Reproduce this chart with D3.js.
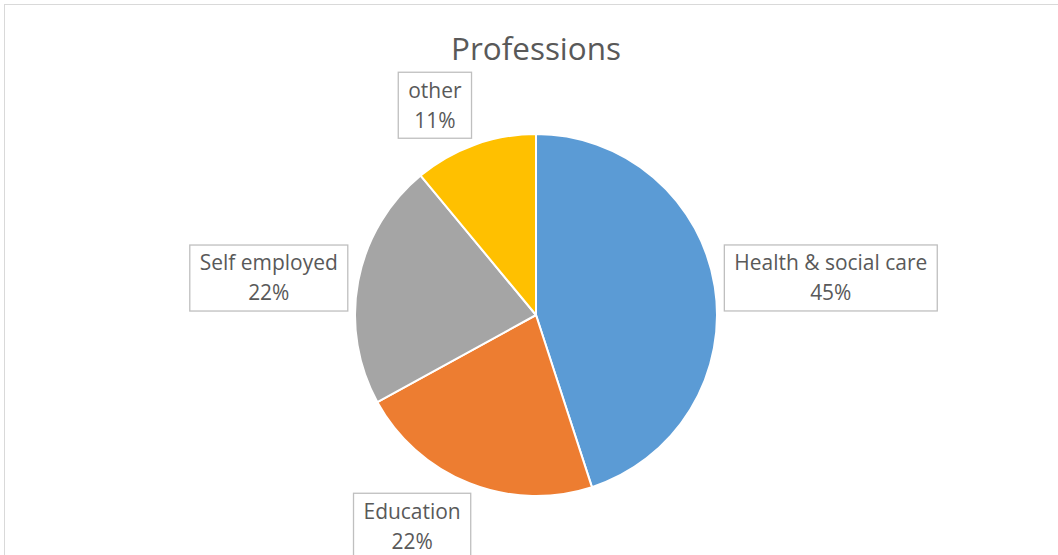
<!DOCTYPE html>
<html>
<head>
<meta charset="utf-8">
<script src="https://cdn.jsdelivr.net/npm/d3@7"></script>
<style>
  html, body { margin: 0; padding: 0; background: #fff; }
  svg { display: block; }
</style>
</head>
<body>
<svg id="chart" width="1058" height="555"></svg>
<script>
// Share of respondents by profession
const categories = ["Health & social care", "Education", "Self employed", "other"];
const shares = [45, 22, 22, 11];
const sliceColors = ["#5B9BD5", "#ED7D31", "#A5A5A5", "#FFC000"];
const chartTitle = "Professions";

// layout
const W = 1058, H = 555;
const cx = 536, cy = 315, radius = 181;
const labelGap = 10;
const boxPadX = 10, boxPadY = 6, lineStep = 30;
// nudges for the callout boxes (collision handling)
const labelNudgeX = [1, -32, -2, -24];
const labelNudgeY = [-2, 3, 5, 1];

const svg = d3.select("#chart");
const fontFamily = "'Open Sans', 'Noto Sans', sans-serif";

// chart area border (extends past the window on right and bottom)
svg.append("rect")
  .attr("x", 4.5).attr("y", 4.5)
  .attr("width", 1200).attr("height", 800)
  .attr("fill", "#fff")
  .attr("stroke", "#d9d9d9")
  .attr("stroke-width", 1);

// helper: font size that makes a string a given width
function fitSize(text, targetWidth, base) {
  const t = svg.append("text").attr("font-family", fontFamily)
    .attr("font-size", base).text(text);
  const w = t.node().getComputedTextLength();
  t.remove();
  return base * targetWidth / w;
}

const titleSize = fitSize(chartTitle, 170, 30);
svg.append("text")
  .attr("x", cx).attr("y", 60)
  .attr("text-anchor", "middle")
  .attr("font-family", fontFamily)
  .attr("font-size", titleSize)
  .attr("fill", "#595959")
  .text(chartTitle);

const data = categories.map((c, i) => ({ name: c, value: shares[i], color: sliceColors[i], i }));

const pie = d3.pie().value(d => d.value).sort(null);
const arc = d3.arc().innerRadius(0).outerRadius(radius);
const arcs = pie(data);

const g = svg.append("g").attr("transform", `translate(${cx},${cy})`);
g.selectAll("path.slice")
  .data(arcs)
  .join("path")
  .attr("class", "slice")
  .attr("d", arc)
  .attr("fill", d => d.data.color)
  .attr("stroke", "#fff")
  .attr("stroke-width", 2)
  .attr("stroke-linejoin", "round");

// data labels: category name and percentage in an outlined box
const labelSize = fitSize("Health & social care", 193, 18);
const fmt = v => v + "%";

arcs.forEach(a => {
  const mid = (a.startAngle + a.endAngle) / 2;
  const ux = Math.sin(mid), uy = -Math.cos(mid);
  const lg = g.append("g");
  const lines = [a.data.name, fmt(a.data.value)];
  const texts = lines.map((s, k) => lg.append("text")
    .attr("text-anchor", "middle")
    .attr("font-family", fontFamily)
    .attr("font-size", labelSize)
    .attr("fill", "#595959")
    .text(s));
  const tw = d3.max(texts, t => t.node().getComputedTextLength());
  const bw = tw + boxPadX * 2;
  const bh = lineStep * 2 + boxPadY;
  const ax = ux * (radius + labelGap), ay = uy * (radius + labelGap);
  const bcx = ax + ux * bw / 2 + labelNudgeX[a.data.i];
  const bcy = ay + uy * bh / 2 + labelNudgeY[a.data.i];
  lg.insert("rect", "text")
    .attr("x", bcx - bw / 2).attr("y", bcy - bh / 2)
    .attr("width", bw).attr("height", bh)
    .attr("fill", "#fff")
    .attr("stroke", "#bfbfbf")
    .attr("stroke-width", 1.3);
  texts.forEach((t, k) => {
    t.attr("x", bcx)
     .attr("y", bcy + (k - 0.5) * lineStep)
     .attr("dy", "0.35em");
  });
});
</script>
</body>
</html>
